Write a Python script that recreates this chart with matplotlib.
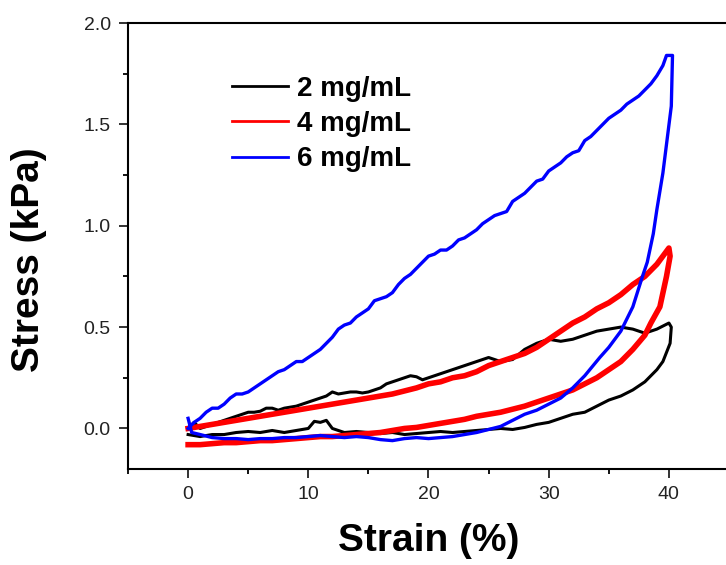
import matplotlib
matplotlib.use('Agg')
import matplotlib.pyplot as plt
from matplotlib.lines import Line2D
from matplotlib.ticker import MultipleLocator

plt.rcParams['font.family'] = ['Liberation Sans', 'DejaVu Sans']

labels = ['2 mg/mL', '4 mg/mL', '6 mg/mL']
colors = ['#000000', '#ff0000', '#0000ff']

# 2 mg/mL: loading 0 -> 40, then unloading 40 -> 0
strain_2 = [0, 0.5, 1, 1.5, 2, 2.5, 3, 3.5, 4, 4.5, 5, 5.5, 6, 6.5, 7, 7.5, 8, 8.5, 9, 9.5, 10,
            10.5, 11, 11.5, 12, 12.5, 13, 13.5, 14, 14.5, 15, 15.5, 16, 16.5, 17, 17.5, 18,
            18.5, 19, 19.5, 20, 21, 22, 23, 24, 25, 26, 27, 28, 29, 30, 31, 32, 33, 34, 35,
            36, 37, 38, 39, 40,
            40.2, 40.1, 39.5, 39, 38, 37, 36, 35, 34, 33, 32, 31, 30, 29, 28, 27, 26, 25, 24,
            23, 22, 21, 20, 19, 18, 17, 16, 15, 14, 13, 12, 11.5, 11, 10.5, 10, 9, 8, 7, 6, 5,
            4, 3, 2, 1, 0]
stress_2 = [0.0, 0.03, 0.0, 0.01, 0.02, 0.03, 0.04, 0.05, 0.06, 0.07, 0.08, 0.08, 0.085, 0.10,
            0.10, 0.09, 0.10, 0.105, 0.11, 0.12, 0.13, 0.14, 0.15, 0.16, 0.18, 0.17, 0.175, 0.18,
            0.18, 0.175, 0.18, 0.19, 0.20, 0.22, 0.23, 0.24, 0.25, 0.26, 0.255, 0.24, 0.25,
            0.27, 0.29, 0.31, 0.33, 0.35, 0.33, 0.34, 0.39, 0.42, 0.44, 0.43, 0.44, 0.46, 0.48,
            0.49, 0.50, 0.49, 0.47, 0.49, 0.52,
            0.50, 0.42, 0.33, 0.29, 0.23, 0.19, 0.16, 0.14, 0.11, 0.08, 0.07, 0.05, 0.03, 0.02,
            0.005, -0.005, 0.0, -0.005, -0.01, -0.015, -0.02, -0.015, -0.02, -0.025, -0.03,
            -0.02, -0.025, -0.02, -0.015, -0.02, 0.0, 0.04, 0.03, 0.035, 0.0, -0.01, -0.02,
            -0.01, -0.02, -0.015, -0.02, -0.03, -0.03, -0.04, -0.03]

# 4 mg/mL
strain_4 = [0, 1, 2, 3, 4, 5, 6, 7, 8, 9, 10, 11, 12, 13, 14, 15, 16, 17, 18, 19, 20,
            21, 22, 23, 24, 25, 26, 27, 28, 29, 30, 31, 32, 33, 34, 35, 36, 37, 38, 39, 40,
            40.1, 39.8, 39.25, 38.5, 38, 37, 36, 35, 34, 33, 32, 31, 30, 29, 28, 27, 26, 25,
            24, 23, 22, 21, 20, 19, 18, 17, 16, 15, 14, 13, 12, 11, 10, 9, 8, 7, 6, 5, 4, 3,
            2, 1, 0]
stress_4 = [0.0, 0.01, 0.02, 0.03, 0.04, 0.05, 0.06, 0.07, 0.08, 0.09, 0.10, 0.11, 0.12, 0.13,
            0.14, 0.15, 0.16, 0.17, 0.185, 0.20, 0.22, 0.23, 0.25, 0.26, 0.28, 0.31, 0.33, 0.35,
            0.37, 0.40, 0.44, 0.48, 0.52, 0.55, 0.59, 0.62, 0.66, 0.71, 0.75, 0.81, 0.89,
            0.85, 0.75, 0.60, 0.52, 0.46, 0.39, 0.33, 0.29, 0.25, 0.22, 0.19, 0.17, 0.15, 0.13,
            0.11, 0.095, 0.08, 0.07, 0.06, 0.045, 0.035, 0.025, 0.015, 0.005, 0.0, -0.01, -0.02,
            -0.025, -0.03, -0.035, -0.04, -0.04, -0.045, -0.05, -0.055, -0.06, -0.06, -0.065,
            -0.07, -0.07, -0.075, -0.08, -0.08]

# 6 mg/mL
strain_6 = [0, 0.5, 1, 1.5, 2, 2.5, 3, 3.5, 4, 4.5, 5, 5.5, 6, 6.5, 7, 7.5, 8, 8.5, 9, 9.5,
            10, 10.5, 11, 11.5, 12, 12.5, 13, 13.5, 14, 14.5, 15, 15.5, 16, 16.5, 17, 17.5,
            18, 18.5, 19, 19.5, 20, 20.5, 21, 21.5, 22, 22.5, 23, 23.5, 24, 24.5, 25, 25.5,
            26, 26.5, 27, 27.5, 28, 28.5, 29, 29.5, 30, 30.5, 31, 31.5, 32, 32.5, 33, 33.5,
            34, 34.5, 35, 35.5, 36, 36.5, 37, 37.5, 38, 38.5, 39, 39.5, 39.8, 40.3,
            40.2, 39.5, 39, 38.7, 38.2, 37.8, 37, 36, 35, 34.25, 33, 32, 31, 30,
            29, 28, 27, 26, 25, 24, 23, 22, 21, 20, 19, 18, 17, 16, 15, 14, 13, 12, 11, 10,
            9, 8, 7, 6, 5, 4, 3, 2, 1, 0.3, 0]
stress_6 = [0.0, 0.03, 0.05, 0.08, 0.10, 0.10, 0.12, 0.15, 0.17, 0.17, 0.18, 0.20, 0.22, 0.24,
            0.26, 0.28, 0.29, 0.31, 0.33, 0.33, 0.35, 0.37, 0.39, 0.42, 0.45, 0.49, 0.51, 0.52,
            0.55, 0.57, 0.59, 0.63, 0.64, 0.65, 0.67, 0.71, 0.74, 0.76, 0.79, 0.82, 0.85, 0.86,
            0.88, 0.88, 0.90, 0.93, 0.94, 0.96, 0.98, 1.01, 1.03, 1.05, 1.06, 1.07, 1.12, 1.14,
            1.16, 1.19, 1.22, 1.23, 1.27, 1.29, 1.31, 1.34, 1.36, 1.37, 1.42, 1.44, 1.47, 1.50,
            1.53, 1.55, 1.57, 1.60, 1.62, 1.64, 1.67, 1.70, 1.74, 1.79, 1.84, 1.84,
            1.59, 1.26, 1.08, 0.96, 0.82, 0.75, 0.60, 0.48, 0.40, 0.35, 0.26, 0.20,
            0.15, 0.12, 0.09, 0.07, 0.04, 0.01, -0.005, -0.02, -0.03, -0.04, -0.045, -0.05,
            -0.045, -0.05, -0.06, -0.055, -0.045, -0.04, -0.045, -0.04, -0.035, -0.04, -0.045,
            -0.045, -0.05, -0.05, -0.055, -0.05, -0.05, -0.045, -0.03, -0.02, 0.05]

series = [(strain_2, stress_2, 2.2), (strain_4, stress_4, 4.0), (strain_6, stress_6, 2.4)]

fig = plt.figure(figsize=(7.26, 5.65), dpi=100)
ax = fig.add_axes([128 / 726, 96 / 565, 601 / 726, 446 / 565])

for (x, y, lw), c in zip(series, colors):
    ax.plot(x, y, color=c, lw=lw)

ax.set_xlim(-5, 45)
ax.set_ylim(-0.2, 2.0)
ax.xaxis.set_minor_locator(MultipleLocator(5))
ax.yaxis.set_major_locator(MultipleLocator(0.5))
ax.yaxis.set_minor_locator(MultipleLocator(0.25))
ax.set_xticks([0, 10, 20, 30, 40])
ax.yaxis.set_major_formatter(plt.FormatStrFormatter('%.1f'))

for s in ax.spines.values():
    s.set_linewidth(1.5)
ax.tick_params(axis='both', which='major', direction='out', length=6.5, width=1.3,
               labelsize=14, pad=6, colors='#222222')
ax.tick_params(axis='both', which='minor', direction='out', length=3.5, width=1.3)

ax.set_xlabel('Strain (%)', fontsize=28, fontweight='bold')
ax.set_ylabel('Stress (kPa)', fontsize=28, fontweight='bold')
ax.xaxis.set_label_coords(0.5, -0.122)
ax.yaxis.set_label_coords(-0.135, 0.47)

handles = [Line2D([], [], color=c, lw=2) for c in colors]
ax.legend(handles, labels, loc='upper left', bbox_to_anchor=(232 / 726, 1 - 76 / 565),
          bbox_transform=fig.transFigure, frameon=False, handlelength=2.0,
          handletextpad=0.35, labelspacing=0.33, borderpad=0, borderaxespad=0,
          prop={'size': 20, 'weight': 'bold'})

fig.savefig('out.png', dpi=100)
